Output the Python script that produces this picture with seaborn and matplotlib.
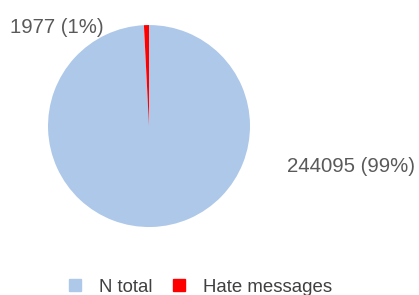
import matplotlib
matplotlib.use("Agg")
import matplotlib.pyplot as plt
from matplotlib.lines import Line2D
import seaborn as sns

# data
categories = ["N total", "Hate messages"]
counts = [244095, 1977]
colors = ["#adc8e9", "#ff0000"]

sns.set_theme(style="white")
plt.rcParams["font.family"] = ["Liberation Sans", "DejaVu Sans"]

fig = plt.figure(figsize=(4.19, 2.95), dpi=100)
ax = fig.add_axes([0, 0, 1, 1])

ax.pie(counts, colors=colors, startangle=90, counterclock=False,
       wedgeprops=dict(linewidth=0))

# keep pie at the same spot as the reference (radius ~101 px)
ax.set_xlim(-1.475, 2.673)
ax.set_ylim(-1.673, 1.248)
ax.set_aspect("equal")
ax.axis("off")

total = sum(counts)
label_pos = [(2.0, -0.40), (-0.91, 0.98)]
for c, (x, y) in zip(counts, label_pos):
    pct = round(100 * c / total)
    ax.text(x, y, f"{c} ({pct}%)", ha="center", va="center",
            fontsize=14.7, color="#595959")

handles = [Line2D([], [], marker="s", linestyle="", markersize=8.5,
                  markerfacecolor=col, markeredgecolor=col) for col in colors]
fig.legend(handles, categories, loc="lower center", bbox_to_anchor=(0.475, -0.06),
           ncol=2, frameon=False, fontsize=13.4, labelcolor="#404040",
           handletextpad=0.8, columnspacing=0.9, handlelength=1.0)

fig.savefig("out.png", dpi=100)
